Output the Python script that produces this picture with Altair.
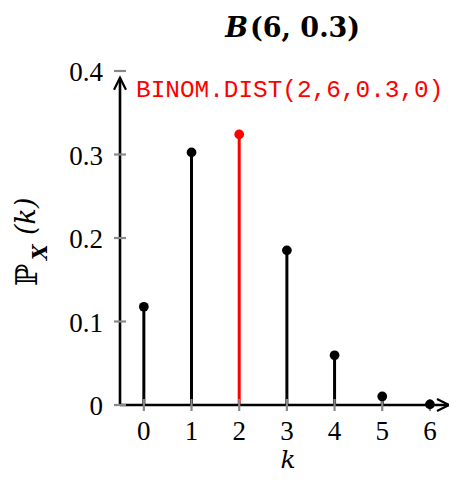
import altair as alt
import pandas as pd

# data
k_vals = [0, 1, 2, 3, 4, 5, 6]
pmf = [0.1176, 0.3025, 0.3241, 0.1852, 0.0595, 0.0102, 0.0007]
highlight = ["n", "n", "y", "n", "n", "n", "n"]
y_ticks = [0, 0.1, 0.2, 0.3, 0.4]
title_main = "B"
title_rest = "(6, 0.3)"
annotation = "BINOM.DIST(2,6,0.3,0)"
x_title = "k"
y_title_P = "ℙ"
y_title_sub = "X"
y_title_arg = "(k)"

df = pd.DataFrame({"k": k_vals, "p": pmf, "hl": highlight, "base": [0] * len(k_vals)})
df_yt = pd.DataFrame({"v": y_ticks})
one = pd.DataFrame({"a": [0]})

X_MIN, X_MAX = -0.5, 6.4
W, H = 329, 334
xs = alt.Scale(domain=[X_MIN, X_MAX], nice=False, zero=False)
ys = alt.Scale(domain=[0, 0.4], nice=False)
col = alt.Scale(domain=["n", "y"], range=["#000000", "#ff0000"])


def XD(v):
    return alt.XDatum(v, type="quantitative", axis=None)


def YD(v):
    return alt.YDatum(v, type="quantitative", axis=None)


base = alt.Chart(df)

stems = base.mark_rule(strokeWidth=3).encode(
    x=alt.X("k:Q", scale=xs, axis=None),
    y=alt.Y("p:Q", scale=ys, axis=None),
    y2="base:Q",
    color=alt.Color("hl:N", scale=col, legend=None),
)

dots = base.mark_circle(size=95, opacity=1).encode(
    x=alt.X("k:Q", axis=None),
    y=alt.Y("p:Q", axis=None),
    color=alt.Color("hl:N", scale=col, legend=None),
)

x_line = alt.Chart(one).mark_rule(strokeWidth=2.6, color="black").encode(
    x=XD(X_MIN), x2=alt.X2Datum(X_MAX), y=YD(0)
)
y_line = alt.Chart(one).mark_rule(strokeWidth=2.6, color="black").encode(
    x=XD(X_MIN), y=YD(0), y2=alt.Y2Datum(0.392)
)

x_arrow = alt.Chart(one).mark_point(
    shape="M-1.6,-0.8L0,0L-1.6,0.8", size=225, filled=False, strokeWidth=2.2,
    color="black", opacity=1
).encode(x=XD(X_MAX), y=YD(0))
y_arrow = alt.Chart(one).mark_point(
    shape="M-0.8,1.6L0,0L0.8,1.6", size=225, filled=False, strokeWidth=2.2,
    color="black", opacity=1
).encode(x=XD(X_MIN), y=YD(0.392))

x_ticks = base.mark_tick(orient="vertical", size=12, thickness=2.2, color="#888888", opacity=1).encode(
    x=alt.X("k:Q", axis=None), y=YD(0)
)
y_tick_marks = alt.Chart(df_yt).mark_tick(orient="horizontal", size=12, thickness=2.2,
                                          color="#888888", opacity=1).encode(
    y=alt.Y("v:Q", axis=None), x=XD(X_MIN)
)

x_labels = base.mark_text(font="Liberation Serif", fontSize=27, align="center",
                          baseline="alphabetic", color="black").encode(
    x=alt.X("k:Q", axis=None), y=alt.value(369), text=alt.Text("k:Q", format="d")
)
y_labels = alt.Chart(df_yt).mark_text(font="Liberation Serif", fontSize=27, align="right",
                                      baseline="alphabetic", dy=10, color="black").encode(
    y=alt.Y("v:Q", axis=None), x=alt.value(-17), text=alt.Text("v:Q", format=".1~f")
)


def txt(s, x, y, **kw):
    return alt.Chart(pd.DataFrame({"t": [s]})).mark_text(**kw).encode(
        text="t:N", x=alt.value(x), y=alt.value(y)
    )


t_B = txt(title_main, 128, -34, font="DejaVu Serif", fontSize=27, fontWeight="bold",
          fontStyle="italic", align="right", baseline="alphabetic", color="black")
t_rest = txt(title_rest, 130, -34, font="DejaVu Serif", fontSize=27, fontWeight="bold",
             align="left", baseline="alphabetic", color="black")
t_ann = txt(annotation, 16, 26, font="Liberation Mono", fontSize=24.4, align="left",
            baseline="alphabetic", color="#ff0000")
t_x = txt(x_title, 168, 397, font="DejaVu Serif", fontSize=25, fontStyle="italic",
          align="center", baseline="alphabetic", color="black")
t_P = txt(y_title_P, -83, 215, font="DejaVu Serif", fontSize=30, angle=270,
          align="left", baseline="alphabetic", color="black")
t_X = txt(y_title_sub, -73, 189, font="DejaVu Serif", fontSize=20, fontWeight="bold",
          fontStyle="italic", angle=270, align="left", baseline="alphabetic", color="black")
t_arg = txt(y_title_arg, -85, 164, font="DejaVu Serif", fontSize=27, fontStyle="italic",
            angle=270, align="left", baseline="alphabetic", color="black")

chart = alt.layer(
    stems, x_line, y_line, x_ticks, y_tick_marks, dots, x_arrow, y_arrow,
    x_labels, y_labels, t_B, t_rest, t_ann, t_x, t_P, t_X, t_arg
).properties(
    width=W, height=H,
    autosize=alt.AutoSizeParams(type="none"),
    padding={"left": 112, "top": 63, "right": 0, "bottom": 70},
).configure_view(stroke=None)

chart.save("out.html", embed_options={"renderer": "svg", "actions": False})
